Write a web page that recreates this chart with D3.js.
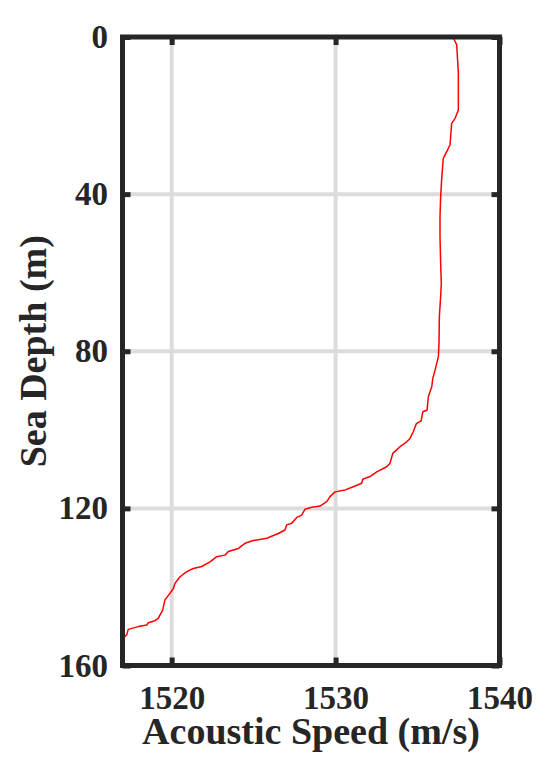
<!DOCTYPE html>
<html>
<head>
<meta charset="utf-8">
<script src="https://cdn.jsdelivr.net/npm/d3@7"></script>
<style>
    body { margin: 0; background: #fff; }
</style>
</head>
<body>
<div id="chart"></div>
<script>
// Sound speed profile (depth in m, speed in m/s)
const depths = [0.5, 2.0, 9.2, 18.6, 20.7, 22.0, 27.5, 30.0, 30.9, 35.6, 40.7, 45.7, 50.8, 57.6, 62.7, 66.1,
    71.2, 78.0, 81.4, 83.1, 84.8, 86.9, 89.0, 91.6, 95.0, 95.4, 97.7, 98.4, 100.5, 102.2, 103.4, 104.3,
    106.0, 108.5, 109.4, 110.7, 111.9, 112.6, 113.6, 114.5, 115.3, 115.8, 117.0, 118.3, 119.4, 119.7,
    120.2, 121.7, 122.3, 123.8, 124.2, 125.5, 126.4, 127.6, 128.2, 128.9, 130.2, 131.0, 131.9, 132.3,
    133.6, 134.8, 135.3, 136.1, 137.4, 139.1, 140.4, 141.6, 143.3, 145.9, 148.0, 148.6, 149.1, 149.7,
    150.1, 150.8, 152.2, 152.8, 153.9, 156.1];
const speeds = [1537.22, 1537.39, 1537.49, 1537.49, 1537.29, 1537.08, 1536.98, 1536.68, 1536.57, 1536.48,
    1536.41, 1536.37, 1536.37, 1536.41, 1536.45, 1536.41, 1536.33, 1536.31, 1536.27, 1536.17, 1536.07,
    1535.93, 1535.87, 1535.66, 1535.58, 1535.32, 1535.22, 1534.93, 1534.74, 1534.54, 1534.24, 1533.93,
    1533.49, 1533.32, 1533.12, 1532.51, 1532.10, 1531.66, 1531.59, 1531.08, 1530.58, 1529.97, 1529.66,
    1529.46, 1529.05, 1528.54, 1528.14, 1527.93, 1527.63, 1527.32, 1527.02, 1526.91, 1526.51, 1525.80,
    1524.98, 1524.47, 1524.07, 1523.46, 1523.25, 1522.75, 1522.34, 1521.83, 1521.32, 1520.92, 1520.51,
    1520.20, 1520.10, 1519.90, 1519.59, 1519.45, 1519.18, 1518.98, 1518.57, 1518.48, 1517.96, 1517.35,
    1517.26, 1517.09, 1517.05, 1517.01];

const speedTicks = [1520, 1530, 1540];
const depthTicks = [0, 40, 80, 120, 160];
const speedDomain = [1517, 1540];
const depthDomain = [0, 160];

const FONT = '"Liberation Serif", "Times New Roman", serif';
const INK = '#262626';

let margin = { top: 37, left: 122.5, right: 46.5, bottom: 112.5 },
    width = 546 - margin.left - margin.right,
    height = 778 - margin.top - margin.bottom;

let data = depths.map((d, i) => ({ depth: d, speed: speeds[i] }));

let svg = d3.select('#chart')
    .append('svg')
    .attr('width', 546)
    .attr('height', 778);

let g = svg.append('g')
    .attr('transform', 'translate(' + margin.left + ',' + margin.top + ')');

let xScale = d3.scaleLinear().domain(speedDomain).range([0, width]);
let yScale = d3.scaleLinear().domain(depthDomain).range([0, height]); // depth grows downward

// grid lines (only inside ticks)
g.append('g').selectAll('line')
    .data(speedTicks.filter(t => t > speedDomain[0] && t < speedDomain[1]))
    .enter().append('line')
    .attr('x1', d => xScale(d)).attr('x2', d => xScale(d))
    .attr('y1', 0).attr('y2', height)
    .attr('stroke', '#dcdcdc')
    .attr('stroke-width', 4);

g.append('g').selectAll('line')
    .data(depthTicks.filter(t => t > depthDomain[0] && t < depthDomain[1]))
    .enter().append('line')
    .attr('y1', d => yScale(d)).attr('y2', d => yScale(d))
    .attr('x1', 0).attr('x2', width)
    .attr('stroke', '#dcdcdc')
    .attr('stroke-width', 4);

// the profile
g.append('clipPath').attr('id', 'plotClip')
    .append('rect').attr('width', width).attr('height', height);

let line = d3.line()
    .x(d => xScale(d.speed))
    .y(d => yScale(d.depth));

g.append('path')
    .datum(data)
    .attr('clip-path', 'url(#plotClip)')
    .attr('fill', 'none')
    .attr('stroke', '#ff0000')
    .attr('stroke-width', 1.5)
    .attr('stroke-linejoin', 'round')
    .attr('d', line);

// axes, ticks pointing inward
function styleAxis(sel) {
    sel.attr('font-family', null).attr('font-size', null);
    sel.select('.domain').remove();
    sel.selectAll('.tick line').attr('stroke', INK).attr('stroke-width', 5);
    sel.selectAll('.tick text')
        .attr('fill', INK)
        .style('font-family', FONT)
        .style('font-weight', '700')
        .style('font-size', '33px');
}

g.append('g')
    .attr('transform', 'translate(0,' + height + ')')
    .call(d3.axisBottom(xScale).tickValues(speedTicks).tickFormat(d3.format('d'))
        .tickSize(-8).tickSizeOuter(0).tickPadding(20))
    .call(styleAxis);

g.append('g')
    .call(d3.axisTop(xScale).tickValues(speedTicks).tickFormat('')
        .tickSize(-8).tickSizeOuter(0))
    .call(styleAxis);

g.append('g')
    .call(d3.axisLeft(yScale).tickValues(depthTicks).tickFormat(d3.format('d'))
        .tickSize(-8).tickSizeOuter(0).tickPadding(14.5))
    .call(styleAxis);

g.append('g')
    .attr('transform', 'translate(' + width + ',0)')
    .call(d3.axisRight(yScale).tickValues(depthTicks).tickFormat('')
        .tickSize(-8).tickSizeOuter(0))
    .call(styleAxis);

// box
g.append('rect')
    .attr('width', width)
    .attr('height', height)
    .attr('fill', 'none')
    .attr('stroke', INK)
    .attr('stroke-width', 5);

// axis labels
g.append('text')
    .attr('x', width / 2)
    .attr('y', height + 78)
    .attr('text-anchor', 'middle')
    .attr('fill', INK)
    .style('font-family', FONT)
    .style('font-weight', '700')
    .style('font-size', '38px')
    .text('Acoustic Speed (m/s)');

g.append('text')
    .attr('transform', 'translate(' + (46 - margin.left) + ',' + (height / 2) + ') rotate(-90)')
    .attr('text-anchor', 'middle')
    .attr('fill', INK)
    .style('font-family', FONT)
    .style('font-weight', '700')
    .style('font-size', '38px')
    .text('Sea Depth (m)');
</script>
</body>
</html>
